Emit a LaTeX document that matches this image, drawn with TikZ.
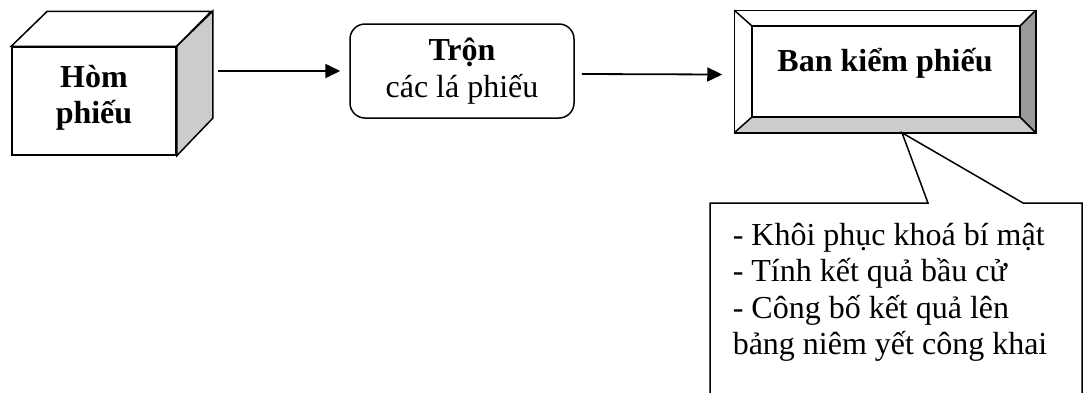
\documentclass[tikz,border=0pt]{standalone}
\usepackage{fontspec}
\setmainfont{Liberation Serif}
\usetikzlibrary{arrows.meta}
\definecolor{faceA}{HTML}{CCCCCC}
\definecolor{faceB}{HTML}{999999}
\begin{document}
\begin{tikzpicture}[x=1pt,y=-1pt,
  line width=1.5pt,
  txt/.style={font=\fontsize{32}{36.5}\selectfont},
  btxt/.style={font=\fontsize{32}{36.5}\selectfont\bfseries},
  arr/.style={-{Triangle[length=15pt,width=14pt]}, line width=1.8pt},
]
\useasboundingbox (0,0) rectangle (1086,392);
\clip (0,0) rectangle (1086,392);

% --- cube "Hom phieu"
\node[draw, fill=white, minimum width=164pt, minimum height=108pt, inner sep=0] (hom) at (94,101) {};
\draw[fill=white, line join=miter] (hom.north west) -- ++(36,-35) -- ++(164,0) -- (hom.north east) -- cycle;
\draw[fill=faceA, line join=miter] (hom.north east) -- ++(36,-35) -- ++(0,107) -- (hom.south east) -- cycle;
\node[btxt, align=center, inner sep=0] (homtxt) at (94,98) {Hòm\\phiếu};

% --- rounded box
\node[draw, rounded corners=15pt, minimum width=224pt, minimum height=94pt, inner sep=0, txt, align=center] (mix) at (462,71) {\textbf{Trộn}\\các lá phiếu};

% --- bevelled box
\node[minimum width=300pt, minimum height=121pt, inner sep=0] (ban) at (885,71.5) {};
\coordinate (i1) at (752,26);
\coordinate (i2) at (1020,26);
\coordinate (i3) at (1020,117);
\coordinate (i4) at (752,117);
\fill[faceB] (ban.north east) -- (ban.south east) -- (i3) -- (i2) -- cycle;
\fill[faceA] (ban.south west) -- (ban.south east) -- (i3) -- (i4) -- cycle;
\draw (ban.north west) -- (i1) (ban.north east) -- (i2) (ban.south east) -- (i3) (ban.south west) -- (i4);
\draw (i1) rectangle (i3);
\draw (ban.north west) rectangle (ban.south east);
\node[btxt, inner sep=0] (bantxt) at (885,63) {Ban kiểm phiếu};

% --- callout
\coordinate (tip) at ([xshift=17pt]ban.south);
\draw[fill=white, line join=miter] (710,203) -- (928,203) -- (tip) -- (1023,203) -- (1082,203) -- (1082,430) -- (710,430) -- cycle;
\node[txt, align=left, anchor=north west, inner sep=0] (notetxt) at (732,222)
  {- Khôi phục khoá bí mật\\- Tính kết quả bầu cử\\- Công bố kết quả lên\\bảng niêm yết công khai};

% --- connectors
\draw[arr] ([xshift=41pt]hom.east |- mix.west) -- ([xshift=-9pt]mix.west);
\draw[arr] ([xshift=7pt,yshift=-3pt]mix.east) -- ([xshift=-12pt,yshift=-3pt]ban.west);
\end{tikzpicture}
\end{document}
